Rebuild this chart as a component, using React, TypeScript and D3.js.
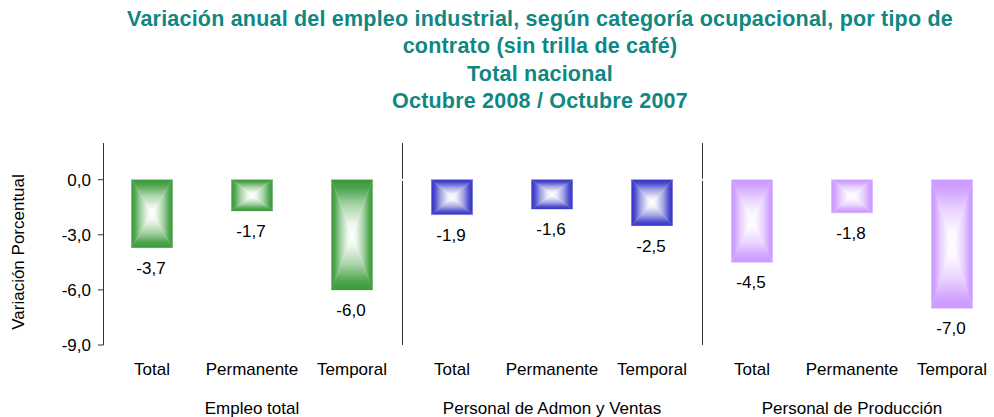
import React from "react";
import * as d3 from "d3";

// chart data
const titleLines = [
  "Variación anual del empleo industrial, según categoría ocupacional, por tipo de",
  "contrato (sin trilla de café)",
  "Total nacional",
  "Octubre 2008 / Octubre 2007",
];
const groups = ["Empleo total", "Personal de Admon y Ventas", "Personal de Producción"];
const subCategories = ["Total", "Permanente", "Temporal"];
const empleoTotal = [-3.7, -1.7, -6.0];
const admonVentas = [-1.9, -1.6, -2.5];
const produccion = [-4.5, -1.8, -7.0];
const groupColors = ["#399a39", "#3434c6", "#cc99ff"];
const yTicks = [0, -3, -6, -9];

const W = 994;
const H = 417;
const font = "'Liberation Sans', Arial, sans-serif";

const groupValues = [empleoTotal, admonVentas, produccion];
const rows = groups.flatMap((g, gi) =>
  subCategories.map((c, ci) => ({ key: `${gi}-${ci}`, group: gi, cat: c, value: groupValues[gi][ci] }))
);

// rectangular "from centre" fill made of four triangles, each with its own linear gradient
const dirs = [
  { id: "t", x1: 0, y1: 0, x2: 0, y2: 1 },
  { id: "b", x1: 0, y1: 1, x2: 0, y2: 0 },
  { id: "l", x1: 0, y1: 0, x2: 1, y2: 0 },
  { id: "r", x1: 1, y1: 0, x2: 0, y2: 0 },
];

export default function App() {
  const x = d3.scaleBand<string>().domain(rows.map((r) => r.key)).range([102, 1002]).paddingInner(0.59).paddingOuter(0.295);
  const y = d3.scaleLinear().domain([-9, 2]).range([345, 143]);
  const fmt = (v: number) => d3.format(".1f")(v).replace(".", ",").replace("−", "-");
  const bw = x.bandwidth();
  const step = x.step();
  const fs = 17;

  return (
    <svg width={W} height={H} style={{ position: "absolute", left: 0, top: 0, background: "#fff" }} fontFamily={font}>
      <defs>
        {groupColors.map((c, gi) =>
          dirs.map((d) => (
            <linearGradient key={`${gi}${d.id}`} id={`g${gi}${d.id}`} x1={d.x1} y1={d.y1} x2={d.x2} y2={d.y2}>
              <stop offset="0" stopColor={c} />
              <stop offset="0.15" stopColor={d3.interpolateRgb(c, "#fff")(0.1)} />
              <stop offset="0.45" stopColor={d3.interpolateRgb(c, "#fff")(0.55)} />
              <stop offset="0.8" stopColor={d3.interpolateRgb(c, "#fff")(0.92)} />
              <stop offset="1" stopColor="#ffffff" />
            </linearGradient>
          ))
        )}
      </defs>

      {titleLines.map((t, i) => (
        <text key={i} x={540} y={26 + i * 27.3} textAnchor="middle" fontSize={21.5} letterSpacing={0.2} fontWeight="bold" fill="#0f8782">
          {t}
        </text>
      ))}

      {/* y axis */}
      <line x1={103.5} x2={103.5} y1={y(2)} y2={y(-9)} stroke="#333" />
      {yTicks.map((t) => (
        <g key={t}>
          <line x1={98} x2={103.5} y1={y(t)} y2={y(t)} stroke="#333" />
          <text x={91} y={y(t) + 6} textAnchor="end" fontSize={fs} fill="#000">
            {fmt(t)}
          </text>
        </g>
      ))}
      <text transform={`translate(24,${(y(2) + y(-9)) / 2 + 8}) rotate(-90)`} textAnchor="middle" fontSize={fs} fill="#000">
        Variación Porcentual
      </text>

      {/* group dividers */}
      {[1, 2].map((g) => {
        const gx = Math.round(102 + step * 3 * g) + 0.5;
        return <line key={g} x1={gx} x2={gx} y1={y(2)} y2={y(-9)} stroke="#333" />;
      })}
      <line x1={104} x2={W} y1={y(0)} y2={y(0)} stroke="#fff" strokeWidth={2} />

      {/* bars */}
      {rows.map((r) => {
        const x0 = x(r.key)!;
        const x1 = x0 + bw;
        const y0 = y(0);
        const y1 = y(r.value);
        const cx = (x0 + x1) / 2;
        const cy = (y0 + y1) / 2;
        const tris = [
          { id: "t", p: [[x0, y0], [x1, y0], [cx, cy]] },
          { id: "b", p: [[x0, y1], [x1, y1], [cx, cy]] },
          { id: "l", p: [[x0, y0], [x0, y1], [cx, cy]] },
          { id: "r", p: [[x1, y0], [x1, y1], [cx, cy]] },
        ];
        return (
          <g key={r.key}>
            {tris.map((t) => (
              <polygon
                key={t.id}
                points={t.p.map((q) => q.join(",")).join(" ")}
                fill={`url(#g${r.group}${t.id})`}
                stroke={`url(#g${r.group}${t.id})`}
                strokeWidth={0.3}
              />
            ))}
            <text x={cx - 1} y={y1 + 26} textAnchor="middle" fontSize={fs} fill="#000">
              {fmt(r.value)}
            </text>
            <text x={x0 + bw / 2} y={375} textAnchor="middle" fontSize={fs} fill="#000">
              {r.cat}
            </text>
          </g>
        );
      })}

      {/* group labels */}
      {groups.map((g, gi) => (
        <text key={g} x={102 + step * (3 * gi + 1.5)} y={414} textAnchor="middle" fontSize={fs} fill="#000">
          {g}
        </text>
      ))}
    </svg>
  );
}
